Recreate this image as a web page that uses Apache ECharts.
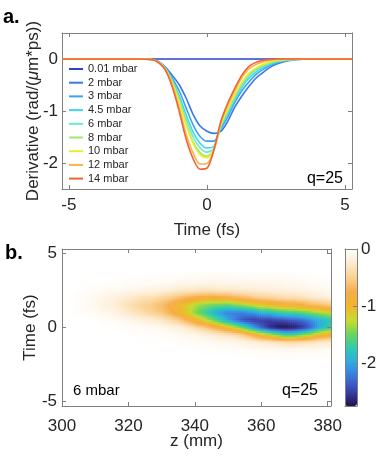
<!DOCTYPE html>
<html><head><meta charset="utf-8">
<script src="https://cdn.jsdelivr.net/npm/echarts@6/dist/echarts.min.js"></script>
<style>html,body{margin:0;padding:0;background:#fff}#c{width:386px;height:468px}</style>
</head><body><div id="c"></div>
<script>
// ---------- panel a: line data ----------
const tGrid = [-5.25, -2.5, -2.0, -1.75, -1.5, -1.25, -1.0, -0.75, -0.5, -0.25, 0, 0.25, 0.5, 0.75, 1.0, 1.25, 1.5, 1.75, 2.0, 2.25, 2.5, 3.0, 3.5, 4.0, 5.25];
const pressureLabels = ['0.01 mbar', '2 mbar', '3 mbar', '4.5 mbar', '6 mbar', '8 mbar', '10 mbar', '12 mbar', '14 mbar'];
const p001 = [0,0,0,0,0,0,0,0,0,0,0,0,0,0,0,0,0,0,0,0,0,0,0,0,0];
const p2   = [0,0,-0.01,-0.05,-0.16,-0.32,-0.50,-0.76,-1.07,-1.29,-1.39,-1.43,-1.39,-1.20,-0.93,-0.72,-0.54,-0.38,-0.27,-0.17,-0.10,-0.03,-0.005,0,0];
const p3   = [0,0,-0.01,-0.05,-0.17,-0.38,-0.62,-0.95,-1.27,-1.49,-1.58,-1.58,-1.34,-1.12,-0.84,-0.62,-0.45,-0.31,-0.21,-0.13,-0.08,-0.02,0,0,0];
const p45  = [0,0,-0.01,-0.06,-0.18,-0.41,-0.71,-1.08,-1.41,-1.62,-1.71,-1.68,-1.31,-1.06,-0.79,-0.56,-0.38,-0.26,-0.17,-0.11,-0.06,-0.02,0,0,0];
const p6   = [0,0,-0.01,-0.06,-0.19,-0.44,-0.77,-1.16,-1.50,-1.71,-1.79,-1.72,-1.29,-1.02,-0.75,-0.52,-0.34,-0.22,-0.15,-0.09,-0.05,-0.015,0,0,0];
const p8   = [0,0,-0.01,-0.06,-0.20,-0.46,-0.82,-1.25,-1.60,-1.80,-1.87,-1.74,-1.27,-0.98,-0.71,-0.47,-0.30,-0.19,-0.12,-0.07,-0.04,-0.01,0,0,0];
const p10  = [0,0,-0.01,-0.06,-0.20,-0.47,-0.84,-1.28,-1.63,-1.84,-1.90,-1.74,-1.26,-0.97,-0.69,-0.46,-0.28,-0.18,-0.11,-0.06,-0.03,-0.01,0,0,0];
const p12  = [0,0,-0.01,-0.07,-0.21,-0.52,-0.95,-1.45,-1.81,-2.02,-2.01,-1.75,-1.22,-0.90,-0.62,-0.37,-0.20,-0.11,-0.06,-0.03,-0.01,0,0,0,0];
const p14  = [0,0,-0.01,-0.07,-0.22,-0.55,-1.02,-1.55,-1.92,-2.12,-2.10,-1.75,-1.20,-0.85,-0.57,-0.32,-0.15,-0.07,-0.03,-0.01,0,0,0,0,0];
const lineSeriesValues = [p001, p2, p3, p45, p6, p8, p10, p12, p14];
const lineColors = ['#2b43d0', '#3a78e6', '#3fa2ec', '#42d6f2', '#66ecc6', '#9ee86a', '#f0ec2a', '#f6b44a', '#f06434'];
const xTicksA = [-5, 0, 5];
const yTicksA = [-2, -1, 0];

// ---------- panel b: heat map data (one column per z, rows over t) ----------
const zValues = [300,302.5,305,307.5,310,312.5,315,317.5,320,322.5,325,327.5,330,332.5,335,337.5,340,342.5,345,347.5,350,352.5,355,357.5,360,362.5,365,367.5,370,372.5,375,377.5,380];
const tValues = [3.5, 3.0, 2.5, 2.0, 1.5, 1.0, 0.5, 0.0, -0.5, -1.0, -1.5, -2.0];
const heatColumns = [
  [0,0,0,0,0,0,0,0,0,0,0,0],
  [0,0,0,-0.01,-0.01,0,0,0,0,0,0,0],
  [0,0,-0.01,-0.03,-0.03,-0.02,0,0,0,0,0,0],
  [0,-0.01,-0.03,-0.05,-0.06,-0.03,-0.01,0,0,0,0,0],
  [0,-0.01,-0.04,-0.09,-0.10,-0.05,-0.01,0,0,0,0,0],
  [0,-0.01,-0.05,-0.12,-0.15,-0.09,-0.03,-0.01,0,0,0,0],
  [-0.01,-0.02,-0.07,-0.16,-0.20,-0.13,-0.04,-0.01,0,0,0,0],
  [-0.01,-0.02,-0.08,-0.20,-0.27,-0.19,-0.07,-0.02,0,0,0,0],
  [-0.01,-0.03,-0.11,-0.26,-0.35,-0.27,-0.11,-0.03,-0.01,0,0,0],
  [-0.01,-0.04,-0.12,-0.30,-0.42,-0.33,-0.14,-0.04,-0.01,0,0,0],
  [-0.02,-0.05,-0.15,-0.35,-0.50,-0.41,-0.20,-0.06,-0.02,-0.01,0,0],
  [-0.02,-0.05,-0.15,-0.38,-0.56,-0.48,-0.23,-0.07,-0.02,-0.01,0,0],
  [-0.02,-0.06,-0.18,-0.44,-0.64,-0.57,-0.29,-0.08,-0.03,-0.01,0,0],
  [-0.02,-0.07,-0.21,-0.51,-0.78,-0.71,-0.38,-0.13,-0.04,-0.01,0,0],
  [-0.03,-0.09,-0.26,-0.62,-0.96,-0.92,-0.52,-0.18,-0.06,-0.02,0,0],
  [-0.03,-0.10,-0.28,-0.70,-1.12,-1.15,-0.71,-0.26,-0.08,-0.03,-0.01,0],
  [-0.04,-0.10,-0.30,-0.78,-1.30,-1.41,-0.94,-0.38,-0.12,-0.04,-0.01,0],
  [-0.04,-0.12,-0.33,-0.83,-1.44,-1.64,-1.18,-0.51,-0.16,-0.05,-0.02,0],
  [-0.05,-0.12,-0.33,-0.85,-1.52,-1.85,-1.43,-0.67,-0.20,-0.07,-0.02,0],
  [-0.05,-0.11,-0.29,-0.80,-1.55,-2.04,-1.72,-0.86,-0.27,-0.09,-0.02,0],
  [-0.05,-0.11,-0.29,-0.78,-1.59,-2.18,-2.02,-1.06,-0.32,-0.10,-0.03,0],
  [-0.04,-0.11,-0.27,-0.71,-1.48,-2.19,-2.26,-1.29,-0.40,-0.11,-0.03,0],
  [-0.04,-0.11,-0.25,-0.64,-1.37,-2.14,-2.44,-1.60,-0.53,-0.14,-0.04,-0.01],
  [-0.04,-0.10,-0.23,-0.56,-1.25,-2.07,-2.53,-2.01,-0.77,-0.19,-0.05,-0.01],
  [-0.04,-0.09,-0.21,-0.50,-1.10,-1.93,-2.53,-2.36,-1.05,-0.24,-0.06,-0.02],
  [-0.04,-0.09,-0.20,-0.47,-1.05,-1.86,-2.52,-2.57,-1.23,-0.27,-0.06,-0.02],
  [-0.04,-0.09,-0.19,-0.41,-0.95,-1.73,-2.45,-2.71,-1.48,-0.33,-0.07,-0.02],
  [-0.04,-0.08,-0.18,-0.39,-0.89,-1.67,-2.42,-2.75,-1.67,-0.39,-0.08,-0.01],
  [-0.03,-0.08,-0.17,-0.38,-0.87,-1.63,-2.36,-2.68,-1.63,-0.38,-0.08,-0.01],
  [-0.03,-0.07,-0.15,-0.33,-0.79,-1.55,-2.27,-2.54,-1.45,-0.34,-0.08,-0.01],
  [-0.02,-0.05,-0.12,-0.28,-0.70,-1.43,-2.12,-2.31,-1.29,-0.33,-0.08,-0.02],
  [-0.01,-0.04,-0.10,-0.25,-0.65,-1.35,-1.97,-1.97,-1.01,-0.27,-0.07,-0.02],
  [-0.01,-0.03,-0.08,-0.19,-0.57,-1.23,-1.81,-1.74,-0.87,-0.24,-0.06,-0.02]
];
const xTicksB = [300, 320, 340, 360, 380];
const yTicksB = [-5, 0, 5];
const colorbarTicks = [-2, -1, 0];
const colormap = ['#25104a','#3940a8','#3c72dc','#2ea9e4','#2ccab4','#68d65e','#c8dc2e','#f2b52a','#f7ad48','#fad08f','#fdebcf','#ffffff'];
const cMin = -2.75, cMax = 0;

// ---------- build ----------
const FONT = 'Liberation Sans, Arial, sans-serif';
const AX = '#808080';
const TXT = '#262626';
const chart = echarts.init(document.getElementById('c'));

function axis(o) {
  return {
    type: 'value', gridIndex: o.grid, min: o.min, max: o.max, position: o.pos,
    z: 6,
    axisLine: { show: true, onZero: false, lineStyle: { color: AX, width: 1 } },
    axisTick: { show: !!o.ticks, inside: true, length: 4, customValues: o.ticks || [], lineStyle: { color: AX } },
    axisLabel: { show: !!o.labels, customValues: o.ticks || [], margin: o.margin || 6, fontSize: 17, fontFamily: FONT, color: TXT },
    splitLine: { show: false },
    name: o.name || '', nameLocation: 'middle', nameGap: o.nameGap || 20, nameMoveOverlap: false,
    nameTextStyle: Object.assign({ fontSize: 17, fontFamily: FONT, color: TXT }, o.nameStyle || {})
  };
}

const xAxes = [
  axis({ grid: 0, min: -5.25, max: 5.25, pos: 'bottom', ticks: xTicksA, labels: true, margin: 8, name: 'Time (fs)', nameGap: 33 }),
  axis({ grid: 0, min: -5.25, max: 5.25, pos: 'top', ticks: xTicksA }),
  axis({ grid: 1, min: 300, max: 381, pos: 'bottom', ticks: xTicksB, labels: true, margin: 12, name: 'z (mm)', nameGap: 27 }),
  axis({ grid: 1, min: 300, max: 381, pos: 'top', ticks: xTicksB }),
  axis({ grid: 2, min: 0, max: 1, pos: 'bottom' }),
  axis({ grid: 2, min: 0, max: 1, pos: 'top' })
];
const yAxes = [
  axis({ grid: 0, min: -2.5, max: 0.5, pos: 'left', ticks: yTicksA, labels: true, margin: 4,
         name: '{n|Derivative (rad/(}{i|μ}{n|m*ps))}', nameGap: 20,
         nameStyle: { rich: { n: { fontSize: 17, fontFamily: FONT, color: TXT }, i: { fontSize: 17, fontFamily: FONT, fontStyle: 'italic', color: TXT } } } }),
  axis({ grid: 0, min: -2.5, max: 0.5, pos: 'right', ticks: yTicksA }),
  axis({ grid: 1, min: -5.3, max: 5.3, pos: 'left', ticks: yTicksB, labels: true, margin: 5, name: 'Time (fs)', nameGap: 23 }),
  axis({ grid: 1, min: -5.3, max: 5.3, pos: 'right', ticks: yTicksB }),
  axis({ grid: 2, min: -2.75, max: 0, pos: 'left' }),
  axis({ grid: 2, min: -2.75, max: 0, pos: 'right', ticks: colorbarTicks, labels: true, margin: 4 })
];

const series = lineSeriesValues.map((vals, i) => ({
  type: 'line', name: pressureLabels[i], xAxisIndex: 0, yAxisIndex: 0,
  data: tGrid.map((t, k) => [t, vals[k]]),
  symbol: 'none', smooth: 0.3, clip: true,
  lineStyle: { color: lineColors[i], width: 1.6 }, itemStyle: { color: lineColors[i] },
  z: 3 + i
}));

// heat cells: [z, t, value, columnIndex, rowIndex]
const heatData = [];
zValues.forEach((z, ci) => tValues.forEach((t, ri) => heatData.push([z, t, heatColumns[ci][ri], ci, ri])));
const zStep = zValues[1] - zValues[0];
const tStep = tValues[0] - tValues[1];
const nC = zValues.length, nR = tValues.length;
function cellVal(c, r) {
  if (r < 0 || r >= nR) return 0;
  c = Math.max(0, Math.min(nC - 1, c));
  return heatColumns[c][r];
}
function shade(fc, fr) { // interpolated shading between cell centres (like "shading interp")
  const c0 = Math.floor(fc), r0 = Math.floor(fr), wc = fc - c0, wr = fr - r0;
  return (1 - wc) * (1 - wr) * cellVal(c0, r0) + wc * (1 - wr) * cellVal(c0 + 1, r0)
       + (1 - wc) * wr * cellVal(c0, r0 + 1) + wc * wr * cellVal(c0 + 1, r0 + 1);
}
const SUB = 4;
series.push({
  type: 'custom', name: 'heat', xAxisIndex: 2, yAxisIndex: 2, clip: true, z: 2,
  data: heatData,
  renderItem: function (params, api) {
    const z = api.value(0), t = api.value(1), ci = api.value(3), ri = api.value(4);
    const children = [];
    for (let a = 0; a < SUB; a++) {
      for (let b = 0; b < SUB; b++) {
        const za = z - zStep / 2 + a * zStep / SUB, zb = za + zStep / SUB;
        const ta = t + tStep / 2 - b * tStep / SUB, tb = ta - tStep / SUB;
        const p0 = api.coord([za, ta]), p1 = api.coord([zb, tb]);
        const fc = ci + (a + 0.5) / SUB - 0.5, fr = ri + (b + 0.5) / SUB - 0.5;
        const v = shade(fc, fr);
        const ratio = Math.max(0, Math.min(1, (v - cMin) / (cMax - cMin)));
        children.push({ type: 'rect', shape: { x: p0[0], y: p0[1], width: p1[0] - p0[0] + 0.5, height: p1[1] - p0[1] + 0.5 },
                        style: { fill: echarts.color.lerp(ratio, colormap) } });
      }
    }
    return { type: 'group', children: children };
  }
});

chart.setOption({
  animation: false,
  backgroundColor: '#ffffff',
  textStyle: { fontFamily: FONT },
  grid: [
    { left: 62, top: 33, width: 290, height: 156 },
    { left: 62, top: 249, width: 269, height: 157 },
    { left: 345, top: 249, width: 12, height: 157 }
  ],
  xAxis: xAxes,
  yAxis: yAxes,
  legend: {
    orient: 'vertical', left: 69, top: 63, padding: 0, itemGap: 1.7,
    itemWidth: 14, itemHeight: 2, icon: 'rect', selectedMode: false,
    data: pressureLabels,
    textStyle: { fontSize: 11, fontFamily: FONT, color: TXT, lineHeight: 12 }
  },
  visualMap: {
    type: 'continuous', min: cMin, max: cMax, dimension: 2, seriesIndex: 9,
    left: 345, top: 249, itemWidth: 12, itemHeight: 157, padding: 0,
    calculable: false, hoverLink: false,
    inRange: { color: colormap }
  },
  graphic: [
    { type: 'text', left: 3, top: 7, style: { text: 'a.', font: 'bold 20px ' + FONT, fill: '#000' } },
    { type: 'text', left: 5, top: 243, style: { text: 'b.', font: 'bold 20px ' + FONT, fill: '#000' } },
    { type: 'text', right: 43, top: 171, style: { text: 'q=25', font: '16px ' + FONT, fill: '#000' } },
    { type: 'text', right: 68, top: 383, style: { text: 'q=25', font: '16px ' + FONT, fill: '#000' } },
    { type: 'text', left: 73, top: 383, style: { text: '6 mbar', font: '15px ' + FONT, fill: '#000' } }
  ],
  series: series
});
</script></body></html>
